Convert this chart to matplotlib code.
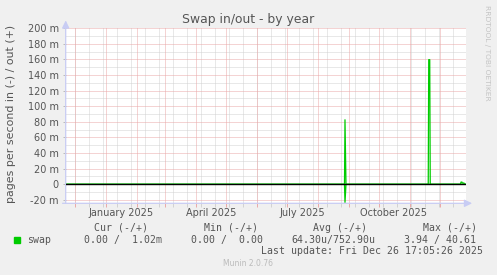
import datetime as dt
import matplotlib
matplotlib.use("Agg")
import matplotlib.pyplot as plt
import matplotlib.dates as mdates
import numpy as np
import pandas as pd

# ---------------- data ----------------
title = "Swap in/out - by year"
ylabel = "pages per second in (-) / out (+)"
series_name = "swap"

range_start = "2024-11-21 17:05:26"
range_end = "2025-12-26 17:05:26"

# "out" (+) series, values in milli-pages/s
out_times = ["2024-11-21 17:05", "2025-08-27 12:00", "2025-08-28 00:00", "2025-08-29 00:00",
             "2025-11-19 06:00", "2025-11-19 18:00", "2025-11-20 18:00", "2025-11-21 06:00",
             "2025-12-21 12:00", "2025-12-22 00:00", "2025-12-23 00:00", "2025-12-23 06:00",
             "2025-12-25 00:00", "2025-12-25 06:00", "2025-12-26 17:05"]
out_values = [0, 0, 82.7, 0,
              0, 159.8, 159.8, 0,
              0, 2.8, 2.8, 1.6,
              1.6, 0, 0]

# "in" (-) series, values in milli-pages/s
in_times = ["2024-11-21 17:05", "2025-08-27 12:00", "2025-08-28 00:00", "2025-08-29 00:00",
            "2025-12-26 17:05"]
in_values = [0, 0, 23.5, 0, 0]

ytick_values = [-20, 0, 20, 40, 60, 80, 100, 120, 140, 160, 180, 200]
ytick_labels = ["-20 m", "0", "20 m", "40 m", "60 m", "80 m", "100 m", "120 m",
                "140 m", "160 m", "180 m", "200 m"]

xlabel_dates = ["2025-01-16", "2025-04-16", "2025-07-16", "2025-10-16"]
xlabel_texts = ["January 2025", "April 2025", "July 2025", "October 2025"]

legend_headers = ["Cur (-/+)", "Min (-/+)", "Avg (-/+)", "Max (-/+)"]
legend_values = ["0.00 /  1.02m", "0.00 /  0.00", "64.30u/752.90u", "3.94 / 40.61"]
last_update = "Last update: Fri Dec 26 17:05:26 2025"
footer = "Munin 2.0.76"
side_text = "RRDTOOL / TOBI OETIKER"

# ---------------- style ----------------
W, H = 497, 275
BG = "#f0f0f0"
TXT = "#555555"
GREEN = "#00cc00"
MAJ = "#eaa8a8"
MIN = "#d2d2d2"
AXC = "#c8ccf4"

fig = plt.figure(figsize=(W / 100, H / 100), dpi=100, facecolor=BG)

left_px, right_px = 65.7, 465.7
top_px, bot_px = 28.3, 203.3
ax = fig.add_axes([left_px / W, 1 - bot_px / H, (right_px - left_px) / W, (bot_px - top_px) / H])
ax.set_facecolor("white")

t0 = pd.Timestamp(range_start)
t1 = pd.Timestamp(range_end)
ax.set_xlim(t0, t1)
ax.set_ylim(-24.4, 200)

for s in ax.spines.values():
    s.set_visible(False)

dot = (0, (1, 1))
lw = 0.72

# horizontal grid
for v in np.arange(-20, 201, 10):
    if v % 20 != 0:
        ax.axhline(v, color=MIN, lw=lw, ls=dot, zorder=1)
for v in ytick_values:
    if v != 0:
        ax.axhline(v, color=MAJ, lw=lw, ls=dot, zorder=1.2)

# vertical grid
minor_days = pd.date_range("2024-12-01", t1, freq="14D")
month_days = pd.date_range("2024-12-01", t1, freq="MS")
for d in minor_days:
    ax.axvline(d, color=MIN, lw=lw, ls=dot, zorder=1)
for d in month_days:
    ax.axvline(d, color=MAJ, lw=lw, ls=dot, zorder=1.2)

# series
ax.plot(pd.to_datetime(out_times), out_values, color=GREEN, lw=0.9, zorder=3)
ax.plot(pd.to_datetime(in_times), [-v for v in in_values], color=GREEN, lw=0.9, zorder=3)
ax.axhline(0, color="black", lw=1.0, zorder=4)

# ticks
ax.set_yticks(ytick_values)
ax.set_yticklabels(ytick_labels)
ax.tick_params(axis="y", length=2, width=0.7, color="#bbbbbb", pad=3,
               labelsize=7, labelcolor=TXT)
ax.set_xticks(month_days)
ax.set_xticklabels([])
ax.set_xticks(minor_days, minor=True)
ax.tick_params(axis="x", which="major", length=3, width=0.7, color=MAJ)
ax.tick_params(axis="x", which="minor", length=3, width=0.7, color=MIN)

for d, t in zip(xlabel_dates, xlabel_texts):
    ax.text(pd.Timestamp(d), -0.055, t, transform=ax.get_xaxis_transform(),
            ha="center", va="center", fontsize=7, color=TXT)

# axis lines with arrows
ax.annotate("", xy=(0, 1.045), xytext=(0, 0), xycoords="axes fraction",
            arrowprops=dict(arrowstyle="-|>,head_length=0.45,head_width=0.22",
                            color=AXC, lw=0.9, shrinkA=0, shrinkB=0), annotation_clip=False)
ax.annotate("", xy=(1.016, 0), xytext=(-0.008, 0), xycoords="axes fraction",
            arrowprops=dict(arrowstyle="-|>,head_length=0.45,head_width=0.22",
                            color=AXC, lw=0.9, shrinkA=0, shrinkB=0), annotation_clip=False)

def ftext(x, y, s, **kw):
    fig.text(x / W, 1 - y / H, s, **kw)

ftext(248, 19, title, ha="center", va="center", fontsize=8.9, color=TXT)
ftext(11, 114, ylabel, ha="center", va="center", rotation=90, fontsize=7.9, color=TXT)
ftext(487.5, 53, side_text, ha="center", va="center", rotation=270, fontsize=5.4, color="#c4c4c4")

mono = dict(family="DejaVu Sans Mono", fontsize=7.15, color=TXT, va="center")
header_x = [94, 203.7, 313.3, 422.7]
value_x = [83.7, 190.7, 291.3, 403.7]
for x, s in zip(header_x, legend_headers):
    ftext(x, 227.7, s, ha="left", **mono)
for x, s in zip(value_x, legend_values):
    ftext(x, 239.7, s, ha="left", **mono)
ftext(27, 239.7, series_name, ha="left", **mono)
ftext(261, 251, last_update, ha="left", **mono)
fig.patches.append(matplotlib.patches.Rectangle((14 / W, 1 - 242.5 / H), 6 / W, 6 / H,
                                                transform=fig.transFigure, color=GREEN))
ftext(248, 263, footer, ha="center", va="center", fontsize=5.5, color="#bbbbbb")

fig.savefig("out.png", dpi=100, facecolor=BG)
